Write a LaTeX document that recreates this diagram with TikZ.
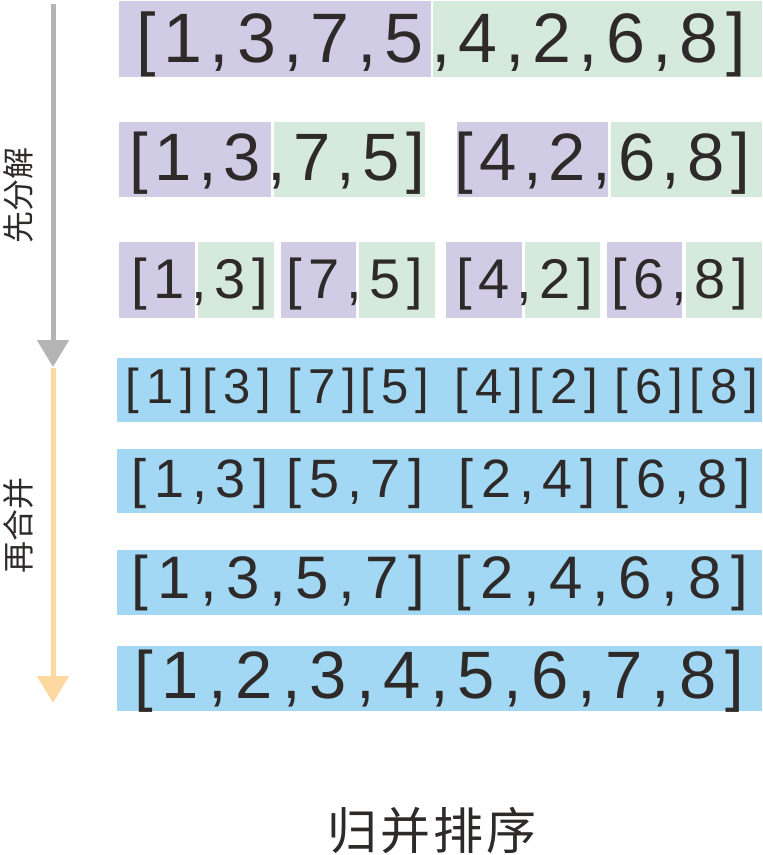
\documentclass[tikz,border=0pt]{standalone}
\usepackage{fontspec}
\setmainfont{Liberation Sans}
\newfontfamily\cjk{Noto Sans CJK SC}
\usetikzlibrary{arrows.meta}

\definecolor{purp}{HTML}{D1CCE6}
\definecolor{grn}{HTML}{D5EADC}
\definecolor{blu}{HTML}{A2D8F3}
\definecolor{ink}{HTML}{2F2A2A}
\definecolor{arrgray}{HTML}{B4B4B4}
\definecolor{arrorange}{HTML}{FDD8A1}

% font size and letter spacing of one row
\newcommand{\rowfont}[2]{\fontsize{#1}{#1}\selectfont\addfontfeature{LetterSpace=#2}}

\begin{document}
\begin{tikzpicture}[x=1pt, y=-1pt,
    num/.style={inner sep=0pt, anchor=base west, text=ink},
    lbl/.style={inner sep=0pt, rotate=90, text=ink},
    bigarrow/.style={line width=5pt, -{Triangle[length=27pt,width=31pt]}}]
    \useasboundingbox (0,0) rectangle (763,855);
    % split
    \fill[purp] (119,1) rectangle (431,77);
    \fill[grn] (433,1) rectangle (762,77);
    \node[num] (r1) at (136,62) {\rowfont{70}{11}[1,3,7,5,4,2,6,8]};
    \fill[purp] (119,122) rectangle (271,197);
    \fill[grn] (274,122) rectangle (425,197);
    \fill[purp] (457,122) rectangle (608,197);
    \fill[grn] (611,122) rectangle (762,197);
    \node[num] (r2a) at (129,180) {\rowfont{67}{10}[1,3,7,5]};
    \node[num] (r2b) at (454,180) {\rowfont{67}{10}[4,2,6,8]};
    \fill[purp] (119,242) rectangle (195,318);
    \fill[grn] (198,242) rectangle (274,318);
    \fill[purp] (281,242) rectangle (356,318);
    \fill[grn] (359,242) rectangle (435,318);
    \fill[purp] (446,242) rectangle (522,318);
    \fill[grn] (525,242) rectangle (600,318);
    \fill[purp] (607,242) rectangle (682,318);
    \fill[grn] (686,242) rectangle (762,318);
    \node[num] (r3a) at (131,298) {\rowfont{56}{12.5}[1,3]};
    \node[num] (r3b) at (286,298) {\rowfont{56}{12.5}[7,5]};
    \node[num] (r3c) at (456,298) {\rowfont{56}{12.5}[4,2]};
    \node[num] (r3d) at (611,298) {\rowfont{56}{12.5}[6,8]};
    % merge
    \fill[blu] (117,358) rectangle (762,422);
    \node[num] (r4a) at (125,403) {\rowfont{49}{15}[1]};
    \node[num] (r4b) at (202,403) {\rowfont{49}{15}[3]};
    \node[num] (r4c) at (287,403) {\rowfont{49}{15}[7]};
    \node[num] (r4d) at (360,403) {\rowfont{49}{15}[5]};
    \node[num] (r4e) at (454,403) {\rowfont{49}{15}[4]};
    \node[num] (r4f) at (529,403) {\rowfont{49}{15}[2]};
    \node[num] (r4g) at (614,403) {\rowfont{49}{15}[6]};
    \node[num] (r4h) at (689,403) {\rowfont{49}{15}[8]};
    \fill[blu] (117,449) rectangle (762,513);
    \node[num] (r5a) at (131,497) {\rowfont{54}{15}[1,3]};
    \node[num] (r5b) at (286,497) {\rowfont{54}{15}[5,7]};
    \node[num] (r5c) at (458,497) {\rowfont{54}{15}[2,4]};
    \node[num] (r5d) at (613,497) {\rowfont{54}{15}[6,8]};
    \fill[blu] (117,550) rectangle (762,615);
    \node[num] (r6a) at (131,598) {\rowfont{60}{16}[1,3,5,7]};
    \node[num] (r6b) at (454,598) {\rowfont{60}{16}[2,4,6,8]};
    \fill[blu] (117,646) rectangle (762,711);
    \node[num] (r7) at (134,698) {\rowfont{67}{13.5}[1,2,3,4,5,6,7,8]};
    % arrows and labels
    \coordinate (split top) at (53,4);
    \coordinate (split end) at (53,367);
    \coordinate (merge top) at (53,368);
    \coordinate (merge end) at (53,703);
    \draw[bigarrow, arrgray] (split top) -- (split end);
    \draw[bigarrow, arrorange] (merge top) -- (merge end);
    \node[lbl] (split) at (18,195) {\cjk\fontsize{32}{32}\selectfont 先分解};
    \node[lbl] (merge) at (18,525) {\cjk\fontsize{32}{32}\selectfont 再合并};
    \node[text=ink, inner sep=0pt] (title) at (432,831) {\cjk\fontsize{50}{50}\selectfont\addfontfeature{LetterSpace=6}归并排序};
\end{tikzpicture}
\end{document}
